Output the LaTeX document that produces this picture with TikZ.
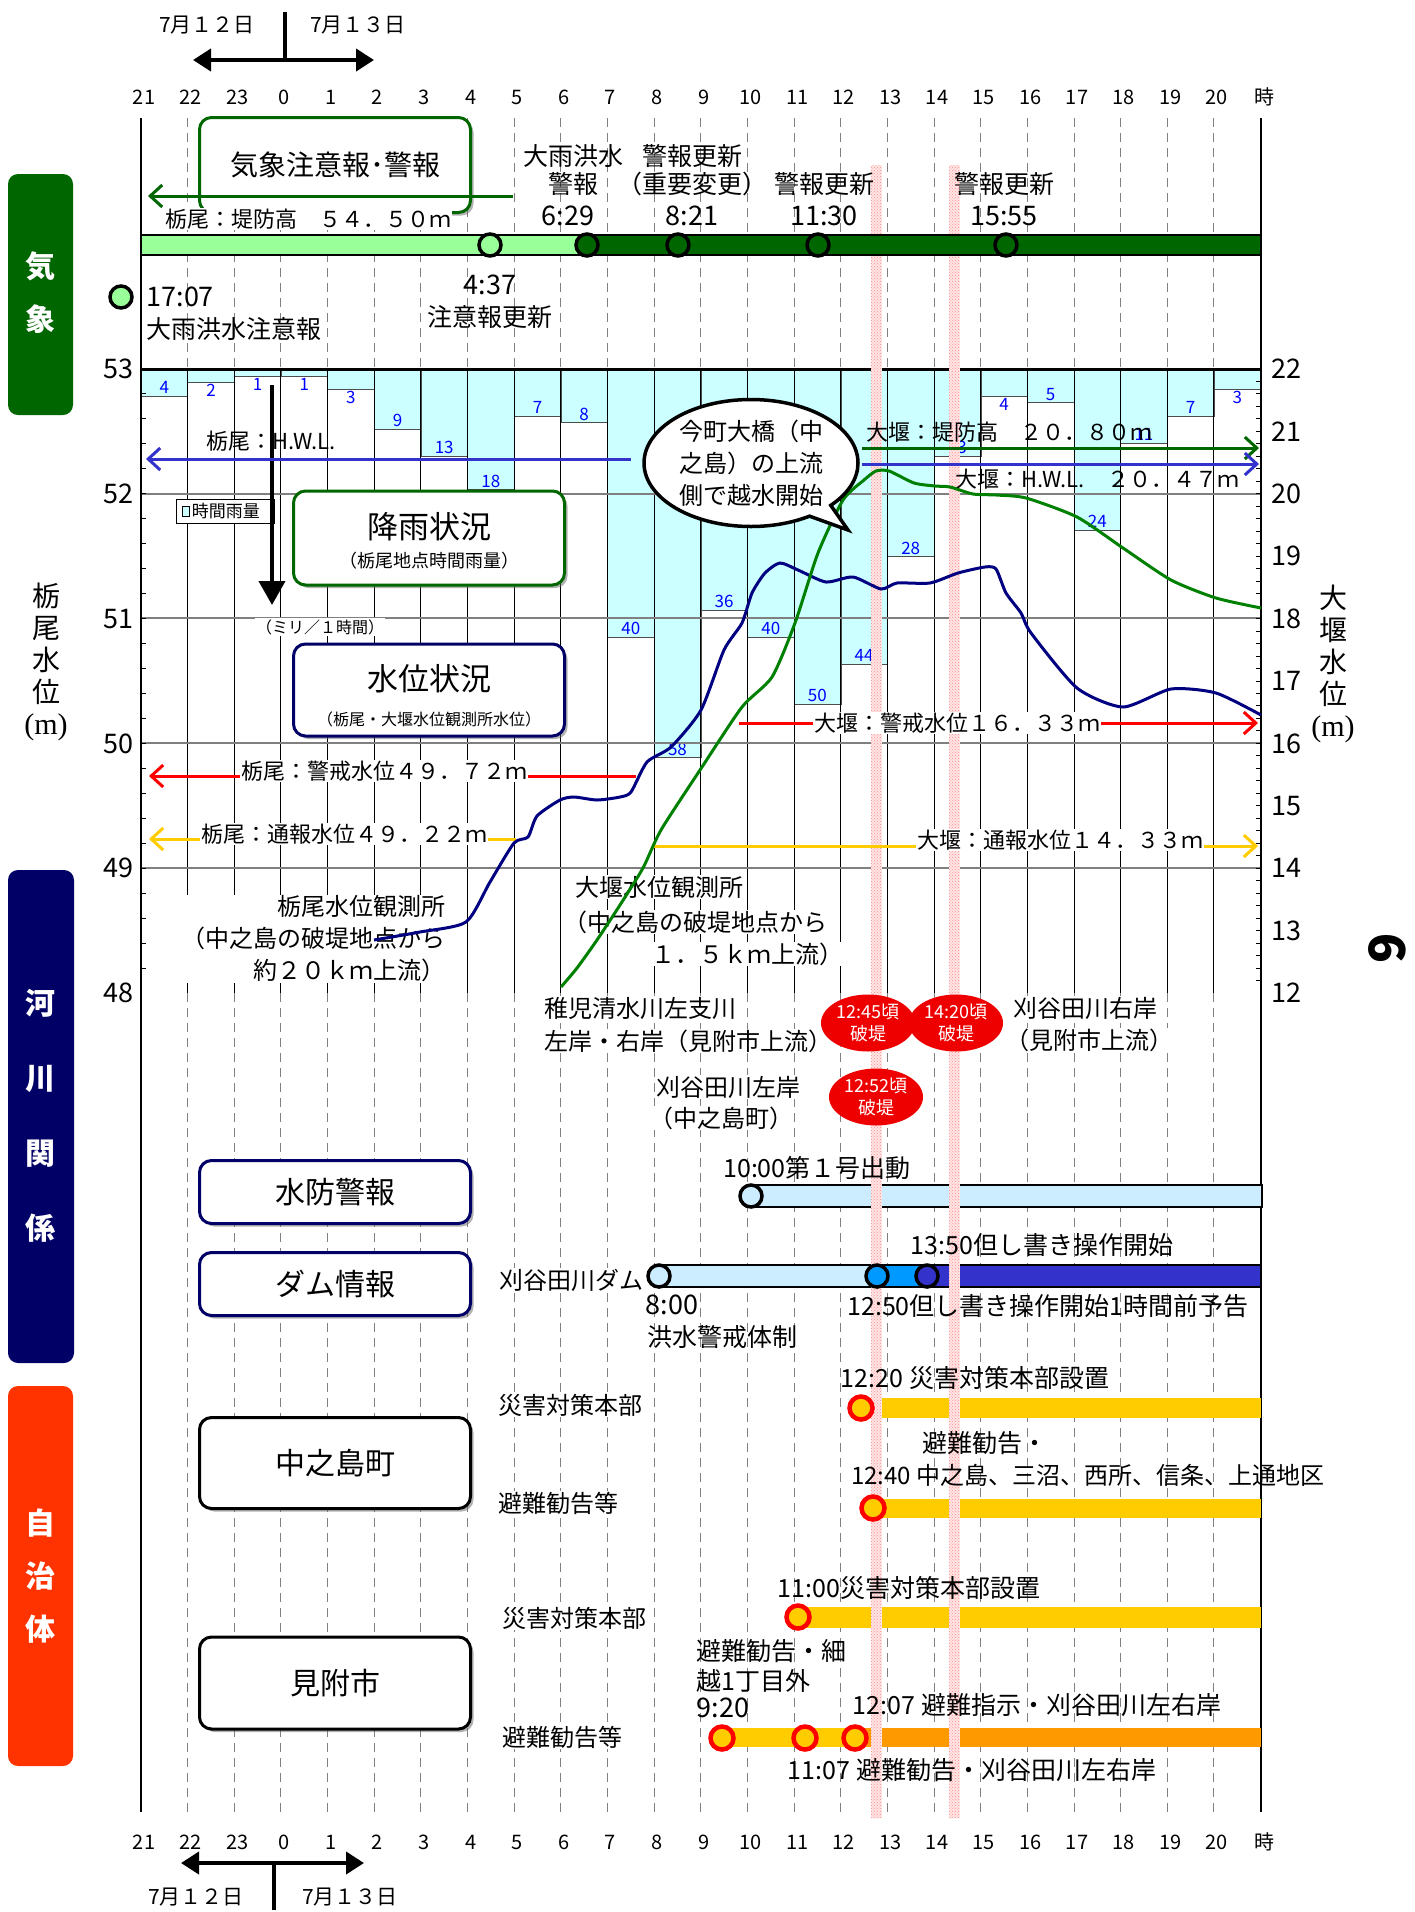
\documentclass[tikz,border=0pt]{standalone}
\usepackage{fontspec}
\setmainfont{Noto Sans CJK JP}
\setsansfont{Noto Sans CJK JP}
\newfontfamily\serifm{Liberation Serif}
\usetikzlibrary{arrows.meta,shapes.geometric,shapes.callouts,shadows,patterns}
\definecolor{lgreen}{HTML}{99FF99}
\definecolor{dgreen}{HTML}{006600}
\definecolor{navyc}{HTML}{000066}
\definecolor{redorg}{HTML}{FF3300}
\definecolor{rainc}{HTML}{CCFFFF}
\definecolor{hwlc}{HTML}{3333CC}
\definecolor{yelc}{HTML}{FFCC00}
\definecolor{orgc}{HTML}{FF9900}
\definecolor{lbluec}{HTML}{CCECFF}
\definecolor{azurec}{HTML}{0099FF}
\definecolor{tbluec}{HTML}{000080}
\definecolor{ogreenc}{HTML}{008000}
\definecolor{brkc}{HTML}{EE0000}
\newcommand{\fsz}[2]{\fontsize{#1}{#2}\selectfont}
\tikzset{
  hr/.style={font=\fsz{20}{20}},
  ax/.style={font=\fsz{27}{27}},
  catlab/.style={text=white,align=center,font=\fsz{30}{53}\bfseries},
  tbox/.style={draw,rounded corners=12pt,line width=3pt,fill=white,minimum width=271,
    drop shadow={shadow xshift=3pt,shadow yshift=-3pt,fill=black!60}},
  evt/.style={font=\fsz{25}{28}},
  tm/.style={font=\fsz{27}{27}},
  lbl/.style={font=\fsz{24}{32},fill=white,inner sep=1pt},
  lvl/.style={font=\fsz{22}{22},inner sep=1pt},
  rv/.style={font=\fsz{17}{17},text=blue,inner sep=2pt},
  ring/.style={circle,draw=black,line width=3.5pt,minimum size=22,inner sep=0pt},
  yring/.style={circle,draw=red,fill=yelc,line width=4.5pt,minimum size=23,inner sep=0pt},
  brk/.style={ellipse,fill=brkc,text=white,minimum width=94,minimum height=57,inner sep=0pt,
    align=center,font=\fsz{18}{22}},
  dgrid/.style={gray,dash pattern=on 9pt off 6pt,line width=1pt},
  lvlarr/.style={line width=3pt,-{Straight Barb[length=12pt,width=22pt]}},
  datearr/.style={line width=4pt,{Triangle[length=18pt,width=22pt]}-{Triangle[length=18pt,width=22pt]}}
}
\begin{document}
\begin{tikzpicture}[x=1pt,y=-1pt]
\useasboundingbox (0,0) rectangle (1414,1912);

\coordinate (dta) at (193,60);
\coordinate (dtb) at (374,60);
\coordinate (dtc) at (285,12);
\draw[datearr] (dta) -- (dtb);
\draw[line width=4pt] (dtc) -- (dtc |- dta);
\node[font=\fsz{21}{21}] (d12) at (207,25) {7月１２日};
\node[font=\fsz{21}{21}] (d13) at (358,25) {7月１３日};
\coordinate (dba) at (181,1863);
\coordinate (dbb) at (364,1863);
\coordinate (dbc) at (274,1910);
\draw[datearr] (dba) -- (dbb);
\draw[line width=4pt] (dbc) -- (dbc |- dba);
\node[font=\fsz{21}{21}] (b12) at (196,1897) {7月１２日};
\node[font=\fsz{21}{21}] (b13) at (350,1897) {7月１３日};

\foreach \k in {0,...,23}
{
  \pgfmathtruncatemacro\t{mod(21+\k,24)}
  \node[hr] (ht\k) at ({144+46.65*\k},97) {\t};
  \node[hr] (hb\k) at ({144+46.65*\k},1842) {\t};
}
\node[hr] (htj) at (1264,97) {時};
\node[hr] (hbj) at (1264,1842) {時};

\fill[dgreen,rounded corners=10pt] (8,174) rectangle (73,415);
\fill[navyc,rounded corners=10pt] (8,870) rectangle (74,1363);
\fill[redorg,rounded corners=10pt] (8,1386) rectangle (73,1766);
\node[catlab] (ckisho) at (40,293) {気\\象};
\node[catlab,font=\fsz{30}{75}\bfseries] (ckasen) at (40,1116) {河\\川\\関\\係};
\node[catlab] (cjichi) at (40,1576) {自\\治\\体};

\foreach \v/\p [count=\c from 0] in {4/south,2/north,1/north,1/north,3/north,9/south,13/south,18/south,
  7/south,8/south,40/south,58/south,36/south,40/south,50/south,44/south,28/south,13/south,4/north,
  5/south,24/south,11/south,7/south,3/north}
{
  \draw[fill=rainc,draw=black!70] ({141+46.65*\c},369) rectangle ({141+46.65*(\c+1)},{369+6.7*\v});
  \node[rv,anchor=\p] (rain\c) at ({141+46.65*(\c+0.5)},{369+6.7*\v}) {\v};
}
\foreach \k in {1,...,23}
{
  \draw[dgrid] ({141+46.65*\k},118) -- ({141+46.65*\k},369);
  \draw[line width=1pt] ({141+46.65*\k},369) -- ({141+46.65*\k},993);
  \draw[dgrid] ({141+46.65*\k},993) -- ({141+46.65*\k},1812);
}
\foreach \y in {494,618,743,868} \draw[gray,line width=1.5pt] (141,\y) -- (1261,\y);
\draw[line width=3pt] (141,369) -- (1261,369);
\draw[line width=1.5pt] (141,118) -- (141,1812);
\draw[line width=1.5pt] (1261,118) -- (1261,1812);
\foreach \i in {1,...,24} \draw[line width=1pt] (141,{369+24.96*\i}) -- ++(5,0);
\foreach \i in {1,...,49} \draw[line width=1pt] (1261,{369+12.48*\i}) -- ++(-5,0);
\foreach \v [count=\i from 0] in {53,52,51,50,49,48}
  \node[ax,anchor=east] (la\v) at (137,{369+124.8*\i}) {\v};
\foreach \v [count=\i from 0] in {22,21,...,12}
  \node[ax,anchor=west] (ra\v) at (1268,{369+62.4*\i}) {\v};
\node[font=\fsz{28}{32},align=center] (ltit) at (46,662) {栃\\尾\\水\\位\\{\serifm\fsz{30}{32}(m)}};
\node[font=\fsz{28}{32},align=center] (rtit) at (1333,664) {大\\堰\\水\\位\\{\serifm\fsz{30}{32}(m)}};
\node[font=\fsz{50}{50}\bfseries,rotate=90] (pg) at (1387,948) {9};

\fill[lbluec] (751,1185) rectangle (1262,1207);
\draw[line width=2pt] (751,1185) rectangle (1262,1207);
\fill[lbluec] (659,1265) rectangle (877,1287);
\fill[azurec] (877,1265) rectangle (927,1287);
\fill[hwlc] (927,1265) rectangle (1261,1287);
\draw[line width=2pt] (659,1265) rectangle (1261,1287);
\fill[yelc] (861,1398) rectangle (1261,1418);
\fill[yelc] (873,1499) rectangle (1261,1518);
\fill[yelc] (798,1607) rectangle (1261,1628);
\fill[yelc] (722,1728) rectangle (855,1747);
\fill[orgc] (855,1728) rectangle (1261,1747);

\foreach \sx in {876,954}
{
  \fill[red!10] ({\sx-5.5},165) rectangle ({\sx+5.5},1818);
  \fill[pattern=crosshatch dots,pattern color=red!45] ({\sx-5.5},165) rectangle ({\sx+5.5},1818);
}

\node[tbox,draw=dgreen,minimum height=95,font=\fsz{28}{28}] (wbox) at (335,165) {気象注意報･警報};
\coordinate (wa1) at (513,196);
\coordinate (wa2) at (148,196);
\draw[lvlarr,dgreen] (wa1) -- (wa2);
\node[lvl,fill=white] (wdike) at (308,219) {栃尾：堤防高　５４．５０ｍ};
\fill[lgreen] (141,235) rectangle (585,255);
\fill[dgreen] (585,235) rectangle (1261,255);
\draw[line width=2pt] (141,235) rectangle (1261,255);
\node[ring,fill=lgreen] (w437) at (490,245) {};
\node[ring,fill=dgreen] (w629) at (587,245) {};
\node[ring,fill=dgreen] (w821) at (678,245) {};
\node[ring,fill=dgreen] (w1130) at (818,245) {};
\node[ring,fill=dgreen] (w1555) at (1006,245) {};
\node[ring,fill=lgreen] (w1707) at (121,297) {};
\node[evt,align=center] (e629) at (573,170) {大雨洪水\\警報};
\node[tm] (t629) at (568,216) {6:29};
\node[evt,align=center] (e821) at (692,170) {警報更新\\（重要変更）};
\node[tm] (t821) at (692,216) {8:21};
\node[evt] (e1130) at (824,184) {警報更新};
\node[tm] (t1130) at (824,216) {11:30};
\node[evt] (e1555) at (1004,184) {警報更新};
\node[tm] (t1555) at (1004,216) {15:55};
\node[tm,anchor=west] (t1707) at (143,297) {17:07};
\node[evt,anchor=west] (e1707) at (143,329) {大雨洪水注意報};
\node[tm] (t437) at (490,285) {4:37};
\node[evt] (e437) at (490,317) {注意報更新};

\node[draw,fill=white,minimum width=98,minimum height=24,inner sep=0pt] (legbox) at (225,511) {};
\node[draw,fill=rainc,minimum width=7,minimum height=10,inner sep=0pt] (legsq) at (186,511) {};
\node[font=\fsz{17}{17},anchor=west,inner sep=2pt] (legtx) at (legsq.east) {時間雨量};
\coordinate (ra1) at (272,385);
\coordinate (ra2) at (272,605);
\draw[line width=4pt,-{Triangle[length=24pt,width=26pt]}] (ra1) -- (ra2);
\node[font=\fsz{16}{16},fill=white,inner sep=1pt] (unit) at (320,627) {（ミリ／１時間）};
\node[tbox,draw=dgreen,minimum height=94] (rainbox) at (429,538) {};
\node[font=\fsz{31}{31}] (raint) at (429,527) {降雨状況};
\node[font=\fsz{18}{18}] (rains) at (429,561) {（栃尾地点時間雨量）};
\node[tbox,draw=navyc,minimum height=92] (wlbox) at (429,690) {};
\node[font=\fsz{31}{31}] (wlt) at (429,679) {水位状況};
\node[font=\fsz{16}{16}] (wls) at (429,719) {（栃尾・大堰水位観測所水位）};

\coordinate (th1) at (631,459);
\coordinate (th2) at (146,459);
\draw[lvlarr,hwlc] (th1) -- (th2);
\node[lvl] (thl) at (271,441) {栃尾：H.W.L.};
\coordinate (od1) at (862,448);
\coordinate (od2) at (1259,448);
\draw[lvlarr,dgreen] (od1) -- (od2);
\node[lvl] (odl) at (1009,432) {大堰：堤防高　２０．８０ｍ};
\coordinate (oh1) at (862,464);
\coordinate (oh2) at (1259,464);
\draw[lvlarr,hwlc] (oh1) -- (oh2);
\node[lvl] (ohl) at (1097,479) {大堰：H.W.L.　２０．４７ｍ};
\coordinate (tk1) at (636,776);
\coordinate (tk2) at (149,776);
\draw[lvlarr,red] (tk1) -- (tk2);
\node[lvl,fill=white] (tkl) at (384,771) {栃尾：警戒水位４９．７２ｍ};
\coordinate (tn1) at (516,839);
\coordinate (tn2) at (149,839);
\draw[lvlarr,yelc] (tn1) -- (tn2);
\node[lvl,fill=white] (tnl) at (344,834) {栃尾：通報水位４９．２２ｍ};
\coordinate (oa1) at (739,723);
\coordinate (oa2) at (1258,723);
\draw[lvlarr,red] (oa1) -- (oa2);
\node[lvl,fill=white] (oal) at (957,723) {大堰：警戒水位１６．３３ｍ};
\coordinate (on1) at (653,846);
\coordinate (on2) at (1258,846);
\draw[lvlarr,yelc] (on1) -- (on2);
\node[lvl,fill=white] (onl) at (1060,840) {大堰：通報水位１４．３３ｍ};

\node[lbl,align=right,anchor=east] (tst) at (447,939) {栃尾水位観測所\\（中之島の破堤地点から\\約２０ｋｍ上流）};
\node[lbl,anchor=west] (ost1) at (574,887) {大堰水位観測所};
\node[lbl,anchor=west] (ost2) at (562,922) {（中之島の破堤地点から};
\node[lbl,anchor=east] (ost3) at (845,954) {１．５ｋｍ上流）};

\draw[tbluec,line width=3pt,smooth,tension=0.4] plot coordinates {(374,940) (420,932) (466,922) (490,882)
  (514,843) (528,837) (537,816) (560,800) (574,797) (597,800) (620,797) (631,792) (647,762) (671,747)
  (701,710) (724,650) (742,623) (752,593) (765,573) (780,563) (798,570) (826,582) (853,577) (881,589)
  (897,583) (930,583) (958,573) (985,567) (996,569) (1006,593) (1021,613) (1031,633) (1077,688)
  (1123,707) (1171,689) (1216,693) (1261,715)};
\draw[ogreenc,line width=3pt,smooth,tension=0.4] plot coordinates {(561,987) (577,968) (597,940)
  (620,905) (643,868) (661,830) (702,767) (742,707) (772,677) (795,623) (818,553) (843,500) (864,480)
  (876,471) (889,471) (914,483) (935,486) (950,487) (973,494) (996,495) (1026,498) (1077,517)
  (1123,548) (1171,580) (1216,598) (1261,608)};

\node[ellipse callout,draw,fill=white,line width=3.5pt,minimum width=214,minimum height=127,inner sep=0pt,
  callout absolute pointer={(848,530)},align=center,font=\fsz{24}{32}] (bub) at (751,463)
  {今町大橋（中\\之島）の上流\\側で越水開始};

\node[lbl,anchor=west] (chg1) at (543,1008) {稚児清水川左支川};
\node[lbl,anchor=west] (chg2) at (543,1041) {左岸・右岸（見附市上流）};
\node[lbl,anchor=west] (krr1) at (1012,1008) {刈谷田川右岸};
\node[lbl,anchor=west] (krr2) at (1004,1040) {（見附市上流）};
\node[lbl,anchor=west] (krl1) at (655,1087) {刈谷田川左岸};
\node[lbl,anchor=west] (krl2) at (648,1118) {（中之島町）};
\node[brk] (b1245) at (868,1023) {12:45頃\\破堤};
\node[brk] (b1420) at (956,1023) {14:20頃\\破堤};
\node[brk] (b1252) at (876,1097) {12:52頃\\破堤};

\node[tbox,draw=navyc,minimum height=63,font=\fsz{30}{30}] (suibo) at (335,1192) {水防警報};
\node[tbox,draw=navyc,minimum height=63,font=\fsz{30}{30}] (damj) at (335,1284) {ダム情報};
\node[tbox,draw=black,minimum height=91,font=\fsz{30}{30}] (naka) at (335,1463) {中之島町};
\node[tbox,draw=black,minimum height=92,font=\fsz{30}{30}] (mitk) at (335,1683) {見附市};

\node[ring,fill=lbluec] (s1000) at (751,1196) {};
\node[evt] (es1000) at (817,1168) {10:00第１号出動};
\node[ring,fill=lbluec] (d800) at (659,1276) {};
\node[ring,fill=azurec] (d1250) at (877,1276) {};
\node[ring,fill=hwlc] (d1350) at (927,1276) {};
\node[lbl,anchor=east] (dnm) at (645,1280) {刈谷田川ダム};
\node[tm,anchor=west] (t800) at (642,1305) {8:00};
\node[evt,anchor=west] (e800) at (644,1337) {洪水警戒体制};
\node[evt] (e1350) at (1042,1245) {13:50但し書き操作開始};
\node[evt] (e1250) at (1048,1306) {12:50但し書き操作開始1時間前予告};

\node[lbl,anchor=west] (nsai) at (497,1405) {災害対策本部};
\node[lbl,anchor=west] (nhin) at (497,1503) {避難勧告等};
\node[yring] (n1220) at (861,1408) {};
\node[yring] (n1240) at (873,1508) {};
\node[evt] (en1220) at (975,1378) {12:20 災害対策本部設置};
\node[evt] (en1240a) at (985,1443) {避難勧告・};
\node[evt,font=\fsz{24}{28}] (en1240b) at (1088,1475) {12:40 中之島、三沼、西所、信条、上通地区};

\node[lbl,anchor=west] (msai) at (501,1618) {災害対策本部};
\node[lbl,anchor=west] (mhin) at (501,1737) {避難勧告等};
\node[yring] (m1100) at (798,1617) {};
\node[yring] (m920) at (722,1738) {};
\node[yring] (m1107) at (805,1738) {};
\node[yring] (m1207) at (855,1738) {};
\node[evt] (em1100) at (909,1588) {11:00災害対策本部設置};
\node[evt,anchor=west] (em920a) at (693,1651) {避難勧告・細};
\node[evt,anchor=west] (em920b) at (693,1681) {越1丁目外};
\node[tm,anchor=west] (em920c) at (693,1708) {9:20};
\node[evt] (em1207) at (1037,1705) {12:07 避難指示・刈谷田川左右岸};
\node[evt] (em1107) at (972,1770) {11:07 避難勧告・刈谷田川左右岸};
\end{tikzpicture}
\end{document}
